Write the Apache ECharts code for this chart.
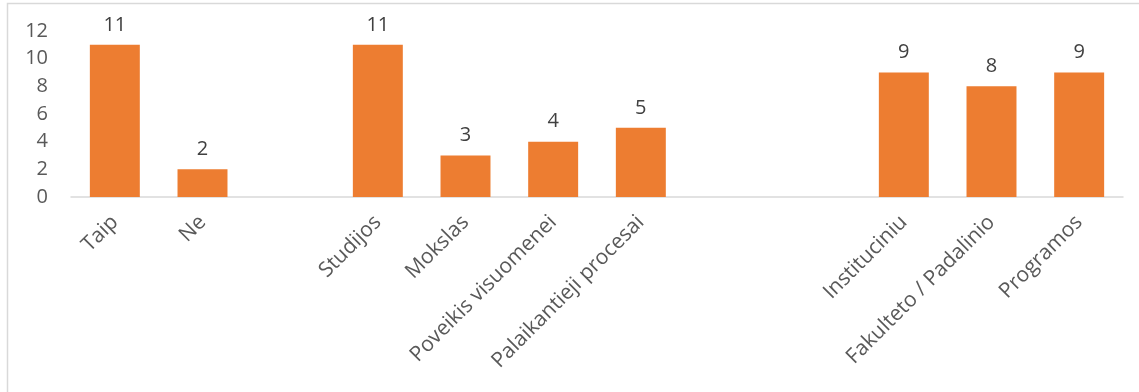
<!DOCTYPE html>
<html>
<head>
<meta charset="utf-8">
<script src="https://cdn.jsdelivr.net/npm/echarts@6/dist/echarts.min.js"></script>
<style>
  html, body { margin: 0; padding: 0; background: #fff; }
  #chart { width: 1139px; height: 392px; }
</style>
</head>
<body>
<div id="chart"></div>
<script>
// Category slots; empty strings leave gaps between the three groups
const categories = [
  'Taip', 'Ne', '',
  'Studijos', 'Mokslas', 'Poveikis visuomenei', 'Palaikantieji procesai', '', '',
  'Instituciniu', 'Fakulteto / Padalinio', 'Programos'
];
const values = [11, 2, '-', 11, 3, 4, 5, '-', '-', 9, 8, 9];
const yTicks = { min: 0, max: 12, interval: 2 };

const FONT = '"Open Sans", "Liberation Sans", sans-serif';
const TEXT = '#595959';

const chart = echarts.init(document.getElementById('chart'), null, { renderer: 'canvas' });
chart.setOption({
  animation: false,
  backgroundColor: '#ffffff',
  graphic: [{
    type: 'rect',
    silent: true,
    shape: { x: 7.5, y: 3.5, width: 1200, height: 500 },
    style: { fill: 'none', stroke: '#d9d9d9', lineWidth: 1.5 }
  }],
  grid: { left: 71, right: 16, top: 31, bottom: 195, containLabel: false },
  xAxis: {
    type: 'category',
    data: categories,
    axisLine: { show: true, lineStyle: { color: '#d9d9d9', width: 1.5 } },
    axisTick: { show: false },
    axisLabel: {
      interval: 0,
      rotate: 45,
      margin: 22,
      color: TEXT,
      fontFamily: FONT,
      fontSize: 21
    }
  },
  yAxis: {
    type: 'value',
    min: yTicks.min,
    max: yTicks.max,
    interval: yTicks.interval,
    axisLine: { show: false },
    axisTick: { show: false },
    splitLine: { show: false },
    axisLabel: { color: TEXT, fontFamily: FONT, fontSize: 20, margin: 23 }
  },
  series: [{
    type: 'bar',
    data: values,
    barWidth: '57%',
    itemStyle: { color: '#ed7d31' },
    label: {
      show: true,
      position: 'top',
      distance: 10,
      color: '#404040',
      fontFamily: FONT,
      fontSize: 20
    }
  }]
});
</script>
</body>
</html>
